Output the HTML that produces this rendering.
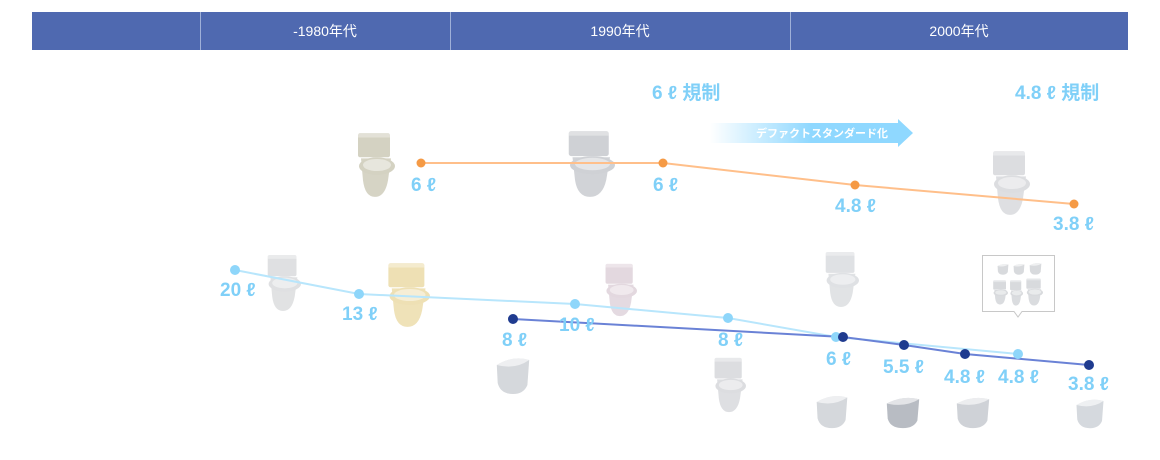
<!DOCTYPE html>
<html><head><meta charset="utf-8"><style>
html,body{margin:0;padding:0;background:#fff;}
svg{display:block;}
text{font-family:"Liberation Sans","Noto Sans CJK JP",sans-serif;}
.l{fill:#80d0f8;font-weight:bold;font-size:19px;}
.h{fill:#fff;font-size:14px;}
</style></head><body>
<svg width="1160" height="460" viewBox="0 0 1160 460" xmlns="http://www.w3.org/2000/svg">
<defs>
<linearGradient id="ar" x1="0" x2="1"><stop offset="0" stop-color="#8fd8ff" stop-opacity="0"/><stop offset="0.5" stop-color="#8fd8ff"/><stop offset="1" stop-color="#8fd8ff"/></linearGradient>
<symbol id="tt" viewBox="0 0 40 60" preserveAspectRatio="none">
<rect x="3" y="1" width="32" height="22" rx="2" fill="currentColor"/>
<rect x="3" y="1" width="32" height="4" fill="#fff" opacity="0.35"/>
<path d="M6 24 H36 L33 44 Q30 59 20 59 Q10 59 8 44 Z" fill="currentColor" opacity="0.95"/>
<ellipse cx="22" cy="31" rx="18" ry="8" fill="currentColor"/>
<ellipse cx="22" cy="30" rx="14" ry="5.5" fill="#fff" opacity="0.45"/>
</symbol>
<symbol id="tl" viewBox="0 0 40 40" preserveAspectRatio="none">
<path d="M2 10 Q20 0 38 5 L36 30 Q32 39 20 39 Q6 39 3 28 Z" fill="currentColor"/>
<path d="M2 10 Q20 0 38 5 Q22 15 2 10 Z" fill="#fff" opacity="0.6"/>
</symbol>
</defs>
<rect x="32" y="12" width="1096" height="38" fill="#4f69b0"/>
<line x1="200.5" y1="12" x2="200.5" y2="50" stroke="#9fb0d8"/>
<line x1="450.5" y1="12" x2="450.5" y2="50" stroke="#9fb0d8"/>
<line x1="790.5" y1="12" x2="790.5" y2="50" stroke="#9fb0d8"/>
<text class="h" x="325" y="36" text-anchor="middle">-1980年代</text>
<text class="h" x="620" y="36" text-anchor="middle">1990年代</text>
<text class="h" x="959" y="36" text-anchor="middle">2000年代</text>

<text class="l" x="652" y="99" font-size="17">6 ℓ 規制</text>
<text class="l" x="1015" y="99" font-size="17">4.8 ℓ 規制</text>
<path d="M710 123 H898 V119 L913 133 L898 147 V143 H710 Z" fill="url(#ar)"/>
<text x="822" y="137" text-anchor="middle" fill="#fff" font-size="11" font-weight="bold">デファクトスタンダード化</text>

<use href="#tt" x="355" y="132" width="40" height="66" color="#d4d2c2"/>
<use href="#tt" x="565" y="130" width="50" height="68" color="#cfd1d5"/>
<use href="#tt" x="990" y="150" width="40" height="66" color="#dcdde0"/>
<use href="#tt" x="265" y="254" width="36" height="58" color="#dfe0e2"/>
<use href="#tt" x="385" y="262" width="45" height="66" color="#eee0b4"/>
<use href="#tt" x="603" y="263" width="34" height="54" color="#e3d8df"/>
<use href="#tt" x="823" y="251" width="36" height="57" color="#dfe1e4"/>
<use href="#tt" x="712" y="357" width="34" height="56" color="#dcdde0"/>
<use href="#tl" x="495" y="355" width="36" height="40" color="#d5d8dc"/>
<use href="#tl" x="815" y="393" width="34" height="36" color="#d5d8dc"/>
<use href="#tl" x="885" y="395" width="36" height="34" color="#b8bcc3"/>
<use href="#tl" x="955" y="395" width="36" height="34" color="#cfd2d7"/>
<use href="#tl" x="1075" y="397" width="30" height="32" color="#d5d9de"/>

<path d="M982.5 255.5 H1054.5 V311.5 H1022 L1018 317 L1014 311.5 H982.5 Z" fill="#fff" stroke="#c8c8c8"/>
<use href="#tl" x="997" y="263" width="12" height="12" color="#d8dadd"/>
<use href="#tl" x="1013" y="263" width="12" height="12" color="#d8dadd"/>
<use href="#tl" x="1029" y="262" width="13" height="13" color="#d8dadd"/>
<use href="#tt" x="992" y="280" width="16" height="25" color="#d8dadd"/>
<use href="#tt" x="1009" y="280" width="14" height="26" color="#d8dadd"/>
<use href="#tt" x="1025" y="278" width="18" height="28" color="#d8dadd"/>

<polyline points="421,163 663,163 855,185 1074,204" fill="none" stroke="#ffbf8a" stroke-width="2"/>
<g fill="#f59a45"><circle cx="421" cy="163" r="4.5"/><circle cx="663" cy="163" r="4.5"/><circle cx="855" cy="185" r="4.5"/><circle cx="1074" cy="204" r="4.5"/></g>

<polyline points="235,270 359,294 575,304 728,318 836,337 1018,354" fill="none" stroke="#b8e6fc" stroke-width="2"/>
<polyline points="513,319 843,337 904,345 965,354 1089,365" fill="none" stroke="#6a82d6" stroke-width="2"/>
<g fill="#8ed6fa"><circle cx="235" cy="270" r="5"/><circle cx="359" cy="294" r="5"/><circle cx="575" cy="304" r="5"/><circle cx="728" cy="318" r="5"/><circle cx="836" cy="337" r="5"/><circle cx="1018" cy="354" r="5"/></g>
<g fill="#1f3b8f"><circle cx="513" cy="319" r="5"/><circle cx="843" cy="337" r="5"/><circle cx="904" cy="345" r="5"/><circle cx="965" cy="354" r="5"/><circle cx="1089" cy="365" r="5"/></g>

<g>
<text x="411" y="191" class="l">6 ℓ</text>
<text x="653" y="191" class="l">6 ℓ</text>
<text x="835" y="212" class="l">4.8 ℓ</text>
<text x="1053" y="230" class="l">3.8 ℓ</text>
<text x="220" y="296" class="l">20 ℓ</text>
<text x="342" y="320" class="l">13 ℓ</text>
<text x="559" y="331" class="l">10 ℓ</text>
<text x="502" y="346" class="l">8 ℓ</text>
<text x="718" y="346" class="l">8 ℓ</text>
<text x="826" y="365" class="l">6 ℓ</text>
<text x="883" y="373" class="l">5.5 ℓ</text>
<text x="944" y="383" class="l">4.8 ℓ</text>
<text x="998" y="383" class="l">4.8 ℓ</text>
<text x="1068" y="390" class="l">3.8 ℓ</text>
</g>
</svg>
</body></html>
